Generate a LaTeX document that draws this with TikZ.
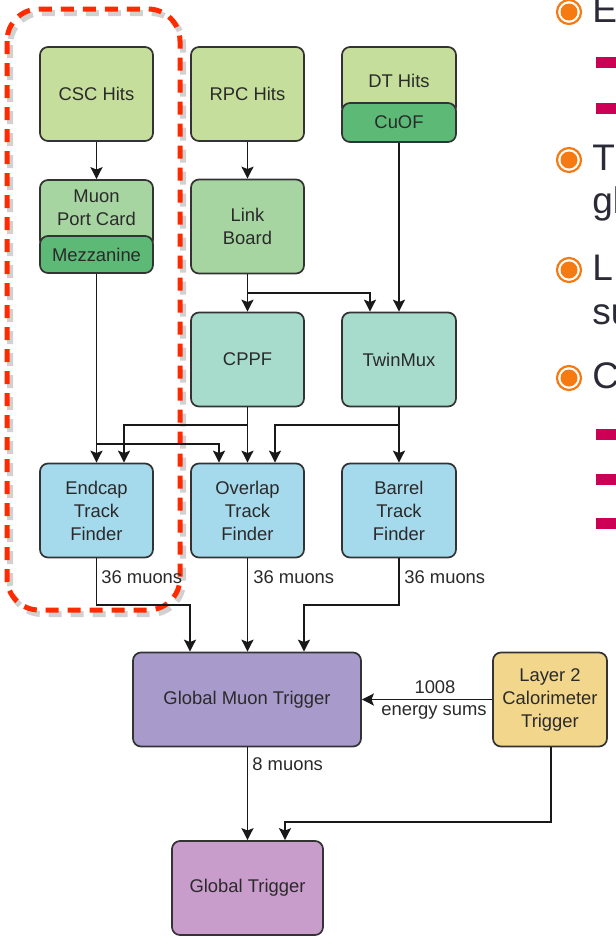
\documentclass[tikz,border=0pt]{standalone}
\usepackage{fontspec}
\setmainfont{Liberation Sans}
\usetikzlibrary{arrows.meta,calc}
\definecolor{boxline}{HTML}{333333}
\definecolor{boxtext}{HTML}{2A2A2A}
\definecolor{hitgreen}{HTML}{C6DE9B}
\definecolor{darkgreen}{HTML}{5CB976}
\definecolor{midgreen}{HTML}{A7D5A2}
\definecolor{mint}{HTML}{A7DBCB}
\definecolor{tfblue}{HTML}{A5D9EC}
\definecolor{gmtpurple}{HTML}{A89BCB}
\definecolor{gtpink}{HTML}{C99DCB}
\definecolor{calyellow}{HTML}{F2D68C}
\definecolor{hlred}{HTML}{FF2A00}
\definecolor{bulletorange}{HTML}{F57A12}
\definecolor{dashmagenta}{HTML}{CC0055}
\definecolor{slidetext}{HTML}{2B2B38}
\begin{document}
\begin{tikzpicture}[x=0.5pt,y=-0.5pt,
  box/.style={draw=boxline, line width=0.85pt, rounded corners=4pt,
    minimum width=56.5pt, minimum height=47pt, inner sep=0pt, align=center,
    text=boxtext, font=\fontsize{9.2}{11.5}\selectfont},
  boxtxt/.style={inner sep=0pt, align=center, text=boxtext, font=\fontsize{9.2}{11.5}\selectfont},
  lbl/.style={inner sep=0pt, text=boxtext, font=\fontsize{9.2}{11.5}\selectfont},
  arr/.style={draw=black!90, line width=0.75pt, -{Stealth[length=6pt,width=6pt,inset=1.2pt]}},
  slide/.style={inner sep=0pt, text=slidetext, font=\fontsize{18.5}{22}\selectfont},
  bulletring/.style={draw=bulletorange, line width=1.1pt, fill=white},
]
\clip (0,0) rectangle (616,944);
\fill[white] (0,0) rectangle (616,944);

% highlight (shadow + red dashed)
\draw[black, opacity=0.18, line width=3pt, dash pattern=on 6.5pt off 4.5pt, rounded corners=16pt]
  (10,13) rectangle (183,614);
\draw[hlred, line width=2.5pt, dash pattern=on 6.5pt off 4.5pt, rounded corners=16pt]
  (7,9) rectangle (180,610);

% row 1
\node[box, fill=hitgreen] (csc) at (96.5,94) {CSC Hits};
\node[box, fill=hitgreen] (rpc) at (247.5,94) {RPC Hits};
\node[box, fill=hitgreen, minimum width=57pt, minimum height=34pt] (dt) at (399,81) {DT Hits};
\node[box, fill=darkgreen, minimum width=57pt, minimum height=19.5pt] (cuof) at (399,122.5) {CuOF};

% row 2
\node[box, fill=midgreen, minimum height=34pt] (mpc) at (96.5,214) {};
\node[boxtxt] (mpctext) at (96.5,208) {Muon\\Port Card};
\node[box, fill=darkgreen, minimum height=18.5pt] (mez) at (96.5,254.5) {Mezzanine};
\node[box, fill=midgreen] (link) at (247.5,226.5) {Link\\Board};

% row 3
\node[box, fill=mint] (cppf) at (247.5,359.5) {CPPF};
\node[box, fill=mint, minimum width=57pt] (twin) at (399,359.5) {TwinMux};

% row 4
\node[box, fill=tfblue] (etf) at (96.5,510.5) {Endcap\\Track\\Finder};
\node[box, fill=tfblue] (otf) at (247.5,510.5) {Overlap\\Track\\Finder};
\node[box, fill=tfblue, minimum width=57pt] (btf) at (399,510.5) {Barrel\\Track\\Finder};

% row 5
\node[box, fill=gmtpurple, minimum width=114pt] (gmt) at (247,699.5) {Global Muon Trigger};
\node[box, fill=calyellow, minimum width=57pt] (l2) at (550,699.5) {Layer 2\\Calorimeter\\Trigger};

% row 6
\node[box, fill=gtpink, minimum width=75.5pt] (gt) at (247.5,888) {Global Trigger};

% junctions
\coordinate (lbj) at (247.5,293);
\coordinate (mpj) at (96.5,444);
\coordinate (cpj) at (247.5,425);
\coordinate (twj) at (399,425);
\coordinate (ej) at (96.5,605);
\coordinate (bj) at (399,605);
\coordinate (l2j) at (551,822);

% connectors
\draw[arr] (csc) -- (mpc);
\draw[arr] (rpc) -- (link);
\draw[arr] (link) -- (cppf);
\draw[arr] (lbj) -| ([xshift=-14.5pt]twin.north);
\draw[arr] (cuof.south) -- (twin.north);
\draw[arr] (mez.south) -- (etf.north);
\draw[arr] (mpj) -| ([xshift=-14.25pt]otf.north);
\draw[arr] (cppf) -- (otf);
\draw[arr] (cpj) -| ([xshift=13.75pt]etf.north);
\draw[arr] (twin) -- (btf);
\draw[arr] (twj) -| ([xshift=13.75pt]otf.north);
\draw[arr] (etf.south) -- (ej) -| ([xshift=-28.5pt]gmt.north);
\draw[arr] (otf.south) -- (otf.south |- gmt.north);
\draw[arr] (btf.south) -- (bj) -| ([xshift=28.5pt]gmt.north);
\draw[arr] (l2.west) -- (gmt.east);
\draw[arr] (gmt.south -| gt.north) -- (gt.north);
\draw[arr] (l2.south -| l2j) -- (l2j) -| ([xshift=18.75pt]gt.north);

% labels
\node[lbl, anchor=base west] (lab1) at (101,583) {36 muons};
\node[lbl, anchor=base west] (lab2) at (253,583) {36 muons};
\node[lbl, anchor=base west] (lab3) at (404,583) {36 muons};
\node[lbl, anchor=base] (lab4) at (435,693) {1008};
\node[lbl, anchor=base] (lab5) at (434,715) {energy sums};
\node[lbl, anchor=base west] (lab6) at (252,770) {8 muons};

% slide bullets at right edge (cut off by the picture's edge, as in the reference)
\foreach \yy in {12,160,270,378}{
  \draw[bulletring] (569,\yy) circle (12);
  \fill[bulletorange] (569,\yy) circle (8.5);
}
\node[slide, anchor=base west] (s1) at (592,22) {E};
\node[slide, anchor=base west] (s2) at (592,170) {T};
\node[slide, anchor=base west] (s3) at (592,213) {gl};
\node[slide, anchor=base west] (s4) at (592,280) {L};
\node[slide, anchor=base west] (s5) at (592,324) {su};
\node[slide, anchor=base west] (s6) at (592,388) {C};
\foreach \yy in {62.5,108,434,479,523}{
  \fill[dashmagenta] (596,\yy-5.5) rectangle (620,\yy+5.5);
}
\end{tikzpicture}
\end{document}
